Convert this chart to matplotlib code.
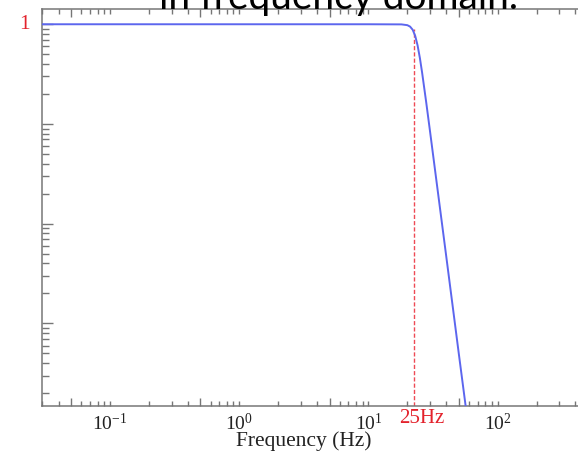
import numpy as np
import matplotlib
matplotlib.use("Agg")
import matplotlib.pyplot as plt
import matplotlib.ticker as mticker
import matplotlib.transforms as mtransforms

# curve (frequency in Hz, normalised gain)
freq_hz = [0.03, 1.0, 10.0, 18.0, 20.0, 21.0, 22.0, 23.0, 24.0, 25.0, 26.0,
           28.0, 30.0, 35.0, 40.0, 50.0, 60.0]
gain    = [1.0, 1.0, 1.0, 0.997, 0.979, 0.947, 0.880, 0.765, 0.613, 0.459, 0.329,
           0.164, 0.0831, 0.0178, 0.0047, 0.00050, 0.000082]

cutoff_line_hz = 22.4
cutoff_top     = 0.9
cutoff_label   = "25Hz"
x_label        = "Frequency (Hz)"
slide_text     = "in frequency domain."

XLIM = (10**-1.529, 10**2.792)
YLIM = (10**-3.828, 10**0.153)
GRAY = "#767676"
RED  = "#e3222c"
BLUE = "#5c66ee"

plt.rcParams["font.family"] = ["Liberation Serif", "DejaVu Serif"]
plt.rcParams["mathtext.fontset"] = "custom"
plt.rcParams["mathtext.rm"] = "Liberation Serif"
plt.rcParams["mathtext.it"] = "Liberation Serif:italic"

W, H = 578, 453
fig = plt.figure(figsize=(W/100, H/100), dpi=100)
ax = fig.add_axes([41.7/W, 47/H, (600-41.7)/W, 397/H])

ax.plot(freq_hz, gain, color=BLUE, lw=1.4, zorder=3)
ax.set_xscale("log"); ax.set_yscale("log")
ax.set_xlim(*XLIM); ax.set_ylim(*YLIM)
ax.vlines(cutoff_line_hz, YLIM[0], cutoff_top, colors="#ee4a55",
          linestyles=(0, (3, 1.5)), lw=1.0, zorder=2)

for s in ax.spines.values():
    s.set_color(GRAY); s.set_linewidth(1.1)
ax.spines["right"].set_visible(False)

# x: long ticks at 5x, short ticks elsewhere, labels on decades
ax.xaxis.set_major_locator(mticker.LogLocator(base=10, subs=(5.0,), numticks=20))
ax.xaxis.set_major_formatter(mticker.NullFormatter())
ax.xaxis.set_minor_locator(mticker.LogLocator(base=10, subs=(1, 2, 3, 4, 6, 7, 8, 9), numticks=20))

def dec_fmt(v, pos):
    e = np.log10(v)
    if abs(e - round(e)) < 1e-6:
        return r"$\mathregular{10^{%d}}$" % round(e)
    return ""

ax.xaxis.set_minor_formatter(mticker.FuncFormatter(dec_fmt))
ax.tick_params(axis="x", which="both", direction="in", top=True, bottom=True,
               color=GRAY, width=1.0, labelsize=14, pad=5, labelcolor="#222222")
ax.tick_params(axis="x", which="major", length=6)
ax.tick_params(axis="x", which="minor", length=3.5)

ax.yaxis.set_major_locator(mticker.LogLocator(base=10, numticks=20))
ax.yaxis.set_minor_locator(mticker.LogLocator(base=10, subs=(2, 3, 4, 5, 6, 7, 8, 9), numticks=20))
ax.yaxis.set_major_formatter(mticker.NullFormatter())
ax.yaxis.set_minor_formatter(mticker.NullFormatter())
ax.tick_params(axis="y", which="both", direction="in", left=True, right=False,
               color=GRAY, width=1.0)
ax.tick_params(axis="y", which="major", length=8)
ax.tick_params(axis="y", which="minor", length=5)

# red annotations
ty = mtransforms.blended_transform_factory(ax.transAxes, ax.transData)
ax.text(-0.021, 1.0, "1", transform=ty, ha="right", va="center",
        color=RED, fontsize=15.5)
tx = mtransforms.blended_transform_factory(ax.transData, fig.transFigure)
ax.text(26.0, 1 - 418.5/H, cutoff_label, transform=tx, ha="center", va="center",
        color=RED, fontsize=15)

fig.text(304/W, 1 - 441/H, x_label, ha="center", va="center",
         fontsize=15.5, color="#222222")
fig.text(159/W, 1 - 9.5/H, slide_text, ha="left", va="baseline",
         fontsize=28, family="Lato", color="black")

fig.savefig("out.png", dpi=100)
plt.close(fig)
